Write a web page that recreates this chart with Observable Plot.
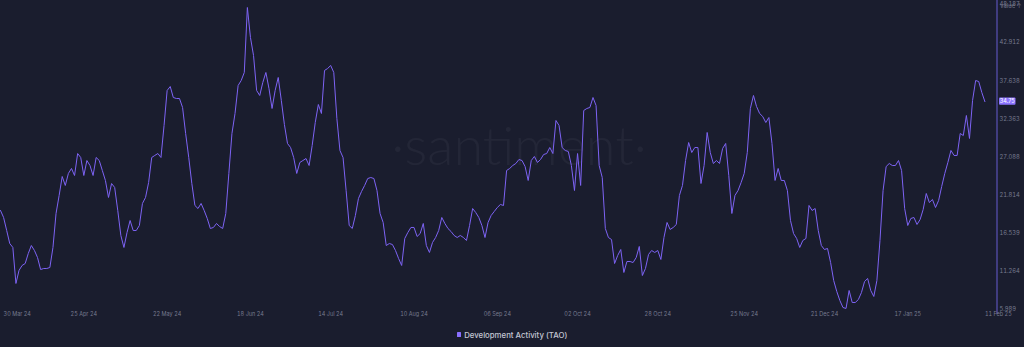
<!DOCTYPE html>
<html>
<head>
<meta charset="utf-8">
<script src="https://cdn.jsdelivr.net/npm/d3@7"></script>
<script src="https://cdn.jsdelivr.net/npm/@observablehq/plot@0.6"></script>
<style>
  html, body { margin: 0; padding: 0; background: #1a1d2e; }
  #chart { width: 1024px; height: 347px; overflow: hidden; background: #1a1d2e; }
  #chart svg { display: block; }
  .legend { height: 25px; display: flex; justify-content: center; align-items: center;
            font: 500 7.8px "Inter", "Roboto", sans-serif; color: #c4c7d4; }
  .legend .sw { width: 4.5px; height: 4.5px; background: #8a6fff; margin-right: 3px; border-radius: 0.5px; }
</style>
</head>
<body>
<div id="chart"></div>
<script>
// ---- data (daily, starting at startDate) ----
const startDate = "2024-03-29";
const seriesName = "Development Activity (TAO)";
const values = [
  19.69, 18.72, 16.92, 15.12, 14.57, 9.59, 11.39, 12.08, 12.35, 13.74,
  14.84, 14.15, 13.18, 11.52, 11.66, 11.66, 11.80, 14.57, 19.27, 21.76,
  24.39, 23.15, 24.81, 25.50, 24.53, 27.57, 27.02, 24.53, 26.60, 25.91,
  24.53, 27.02, 26.60, 25.22, 23.84, 21.49, 23.42, 22.87, 19.69, 16.23,
  14.57, 16.64, 18.30, 16.92, 16.92, 17.61, 20.66, 21.49, 23.56, 27.02,
  27.30, 27.57, 27.02, 31.45, 36.29, 36.84, 35.32, 35.18, 35.18, 33.94,
  30.34, 27.02, 23.42, 20.38, 19.96, 20.66, 19.69, 18.58, 17.20, 17.34,
  17.89, 17.47, 17.20, 19.27, 24.81, 30.34, 33.11, 36.98, 37.67, 38.78,
  47.77, 43.62, 41.13, 36.29, 35.60, 37.40, 38.78, 36.57, 33.80, 36.29,
  38.09, 34.91, 31.59, 28.96, 28.40, 27.02, 24.81, 26.33, 26.60, 26.88,
  25.91, 28.68, 31.86, 34.35, 33.11, 39.06, 39.33, 39.75, 38.78, 32.42,
  27.99, 27.02, 22.45, 17.61, 17.20, 19.00, 21.35, 22.32, 23.15, 24.11,
  24.25, 24.11, 22.45, 19.27, 18.03, 14.84, 15.12, 14.98, 14.15, 13.05,
  12.08, 15.81, 16.64, 17.34, 17.34, 16.09, 16.50, 17.89, 14.84, 13.88,
  15.26, 15.95, 16.92, 18.72, 17.89, 17.20, 16.78, 16.23, 15.95, 16.23,
  15.95, 15.54, 17.61, 19.96, 19.41, 18.72, 17.61, 15.95, 18.03, 19.00,
  19.55, 20.10, 20.52, 20.38, 25.22, 25.50, 25.91, 26.19, 26.74, 26.60,
  25.77, 23.84, 26.60, 27.16, 26.33, 26.74, 27.43, 27.57, 28.40, 27.57,
  32.14, 31.45, 28.40, 27.99, 27.85, 25.91, 22.45, 27.57, 23.15, 33.52,
  33.80, 33.94, 35.32, 34.21, 25.91, 24.25, 17.20, 15.95, 15.67, 12.35,
  13.46, 14.29, 11.11, 12.63, 12.63, 12.49, 13.18, 14.71, 10.69, 11.66,
  13.60, 14.15, 13.88, 14.15, 12.91, 15.95, 18.03, 17.06, 17.34, 17.75,
  21.76, 23.15, 26.60, 29.09, 27.71, 28.40, 28.40, 23.42, 25.91, 30.48,
  27.71, 26.19, 26.60, 26.19, 28.26, 28.96, 24.53, 19.27, 21.76, 22.45,
  23.56, 24.81, 27.71, 33.80, 35.60, 34.08, 33.11, 32.69, 31.86, 32.55,
  28.96, 23.84, 25.50, 23.84, 23.84, 22.45, 18.30, 16.50, 15.81, 14.57,
  15.54, 15.81, 20.38, 19.69, 19.96, 16.92, 14.84, 14.29, 14.43, 12.49,
  10.00, 8.48, 7.23, 6.27, 6.13, 8.62, 6.96, 6.96, 7.37, 8.34,
  9.86, 10.28, 8.62, 7.79, 10.00, 15.54, 22.45, 25.77, 26.19, 25.91,
  25.91, 26.60, 25.22, 19.96, 17.61, 18.58, 18.72, 17.75, 18.44, 19.83,
  22.04, 20.79, 21.21, 20.10, 21.07, 23.01, 24.81, 26.33, 27.99, 27.30,
  27.30, 30.34, 30.06, 32.83, 29.65, 34.91, 37.67, 37.53, 36.01, 34.75
];
const yTicks = [5.989, 11.264, 16.539, 21.814, 27.088, 32.363, 37.638, 42.912, 48.187];
const yTickLabels = ["5.989", "11.264", "16.539", "21.814", "27.088", "32.363", "37.638", "42.912", "48.187"];
const xTickMiddle = ["2024-04-25", "2024-05-22", "2024-06-18", "2024-07-14", "2024-08-10", "2024-09-06",
                     "2024-10-02", "2024-10-28", "2024-11-25", "2024-12-21", "2025-01-17"];
const xTickEnds = ["2024-03-30", "2025-02-11"];
const xDomain = ["2024-03-29", "2025-02-15T02:00:00Z"];
const lastLabel = "34.75";
const watermark = "·santiment·";

// ---- build table ----
const t0 = new Date(startDate + "T00:00:00Z");
const data = values.map((v, i) => ({date: d3.utcDay.offset(t0, i), value: v}));
const lastValue = values[values.length - 1];
const fmt = d3.utcFormat("%d %b %y");
const toDate = s => new Date(s.length === 10 ? s + "T00:00:00Z" : s);

const lineColor = "#7d63f4";
const textColor = "#777b8e";

// right-hand axis line spanning the whole SVG height, drawn with the x scale
function axisLine(index, scales, vals, dims) {
  const x = scales.x(toDate(xDomain[1]));
  return d3.create("svg:line").attr("x1", x).attr("x2", x).attr("y1", 0).attr("y2", dims.height - 8)
    .attr("stroke", "#5b52b8").attr("stroke-width", 1.2).node();
}

function badge(index, scales, vals, dims) {
  const y = scales.y(lastValue);
  const x0 = dims.width - dims.marginRight + 2;
  const g = d3.create("svg:g");
  g.append("rect").attr("x", x0).attr("y", y - 3.6).attr("width", 16.5).attr("height", 7.2)
    .attr("rx", 1).attr("fill", "#8b74ff");
  g.append("text").attr("x", x0 + 8.25).attr("y", y).attr("dy", "0.35em")
    .attr("text-anchor", "middle").attr("fill", "#ffffff")
    .attr("font-size", 5.6).attr("font-family", "Inter, Roboto, sans-serif").text(lastLabel);
  return g.node();
}

const chart = Plot.plot({
  width: 1024,
  height: 322,
  marginLeft: 0,
  marginRight: 27,
  marginTop: 4,
  marginBottom: 13,
  style: {background: "#1a1d2e", color: textColor, fontFamily: "Inter, Roboto, sans-serif", overflow: "visible"},
  x: {type: "utc", domain: xDomain.map(toDate), axis: null},
  y: {domain: [yTicks[0], yTicks[yTicks.length - 1]], axis: null},
  marks: [
    Plot.text([watermark], {frameAnchor: "middle", dx: 20, dy: -9, fontSize: 54, fontWeight: 300,
      fontFamily: "Lato, Inter, sans-serif", fill: "#ffffff", fillOpacity: 0.045}),
    axisLine,
    Plot.axisX({ticks: xTickMiddle.map(toDate), tickFormat: fmt, tickSize: 0, tickPadding: 2.5,
      fontSize: 5.5, fill: textColor}),
    Plot.axisX({ticks: xTickEnds.map(toDate), tickFormat: fmt, tickSize: 0, tickPadding: 2.5,
      fontSize: 5.5, fill: textColor, textAnchor: "start"}),
    Plot.axisY({anchor: "right", ticks: yTicks, tickFormat: (d, i) => yTickLabels[i], tickSize: 0,
      tickPadding: 2, fontSize: 5.8, fill: textColor, textAnchor: "start"}),
    Plot.line(data, {x: "date", y: "value", stroke: lineColor, strokeWidth: 1, strokeLinejoin: "round"}),
    badge
  ]
});

const root = document.getElementById("chart");
root.appendChild(chart);
const legend = document.createElement("div");
legend.className = "legend";
legend.innerHTML = '<span class="sw"></span><span></span>';
legend.lastChild.textContent = seriesName;
root.appendChild(legend);
</script>
</body>
</html>
